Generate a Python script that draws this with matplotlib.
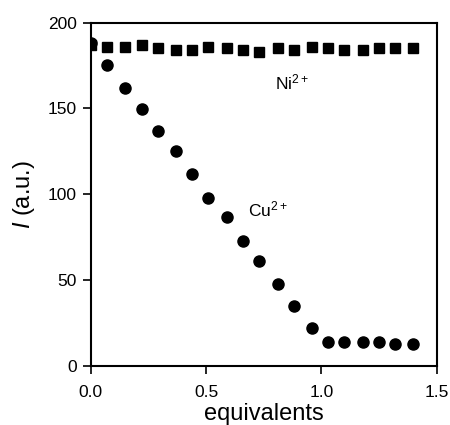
import matplotlib.pyplot as plt

plt.rcParams['font.family'] = ['Liberation Sans', 'DejaVu Sans']
plt.rcParams['mathtext.fontset'] = 'custom'
plt.rcParams['mathtext.rm'] = 'Liberation Sans'
plt.rcParams['mathtext.it'] = 'Liberation Sans:italic'

# equivalents added
equiv = [0.0, 0.07, 0.15, 0.22, 0.29, 0.37, 0.44, 0.51, 0.59, 0.66,
         0.73, 0.81, 0.88, 0.96, 1.03, 1.10, 1.18, 1.25, 1.32, 1.40]
# intensities
ni = [187, 186, 186, 187, 185, 184, 184, 186, 185, 184,
      183, 185, 184, 186, 185, 184, 184, 185, 185, 185]
cu = [188, 175, 162, 149.5, 137, 125, 112, 98, 87, 72.5,
      61, 48, 35, 22, 14, 14, 14, 14, 13, 13]

fig = plt.figure(figsize=(4.5, 4.25), dpi=100)
ax = fig.add_axes([0.202, 0.139, 0.768, 0.808])

ax.plot(equiv, ni, linestyle='none', marker='s', markersize=6.8, color='black')
ax.plot(equiv, cu, linestyle='none', marker='o', markersize=8, color='black')

ax.text(0.80, 165, 'Ni$^{2+}$', fontsize=12.5, va='center', ha='left')
ax.text(0.68, 91, 'Cu$^{2+}$', fontsize=12.5, va='center', ha='left')

ax.set_xlim(0, 1.5)
ax.set_ylim(0, 200)
ax.set_xticks([0.0, 0.5, 1.0, 1.5])
ax.set_yticks([0, 50, 100, 150, 200])
ax.set_xticklabels(['0.0', '0.5', '1.0', '1.5'])

ax.set_xlabel('equivalents', fontsize=17, labelpad=2)
ax.set_ylabel('$\\mathit{I}$ (a.u.)', fontsize=17, labelpad=8)

ax.tick_params(direction='out', length=6, width=1.2, labelsize=12.5)
ax.tick_params(axis='x', pad=8)
ax.tick_params(axis='y', pad=4)
for s in ax.spines.values():
    s.set_linewidth(1.5)

plt.savefig('out.png', dpi=100)
